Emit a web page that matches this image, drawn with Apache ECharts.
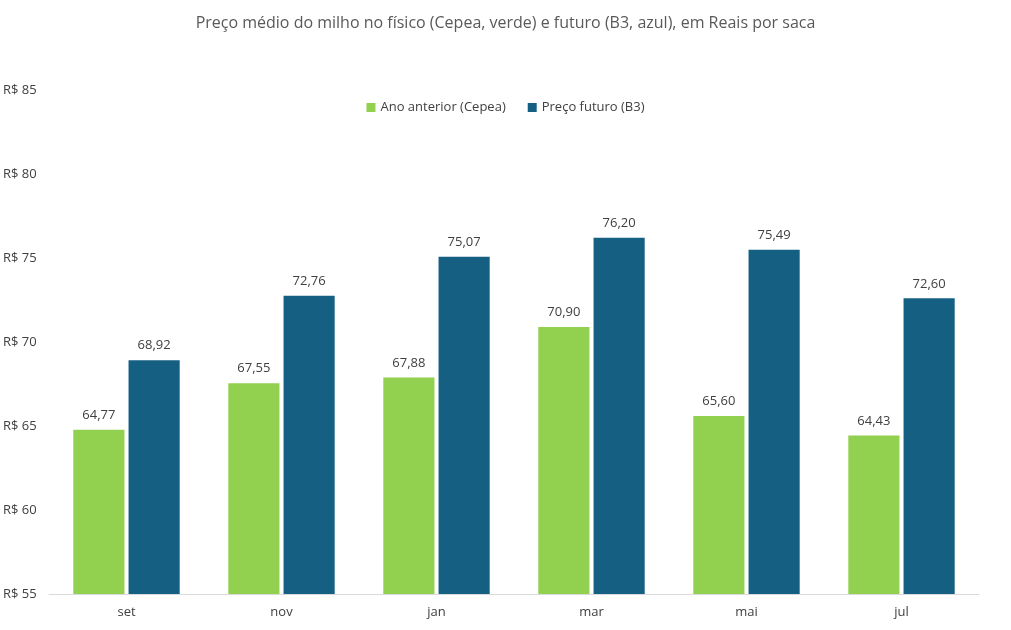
<!DOCTYPE html>
<html>
<head>
<meta charset="utf-8">
<script src="https://cdn.jsdelivr.net/npm/echarts@6/dist/echarts.min.js"></script>
<style>
  html, body { margin: 0; padding: 0; background: #fff; }
  #chart { width: 1011px; height: 630px; }
</style>
</head>
<body>
<div id="chart"></div>
<script>
  // dados
  const meses = ['set', 'nov', 'jan', 'mar', 'mai', 'jul']
  const anoAnterior = [64.77, 67.55, 67.88, 70.90, 65.60, 64.43]
  const precoFuturo = [68.92, 72.76, 75.07, 76.20, 75.49, 72.60]

  const font = '"Open Sans", "Noto Sans", sans-serif'
  const fmt = v => v.toFixed(2).replace('.', ',')

  const chart = echarts.init(document.getElementById('chart'))
  chart.setOption({
    animation: false,
    textStyle: { fontFamily: font },
    title: {
      text: 'Preço médio do milho no físico (Cepea, verde) e futuro (B3, azul), em Reais por saca',
      left: 'center',
      top: 10,
      textStyle: { fontSize: 16, fontWeight: 'normal', color: '#595959', fontFamily: font }
    },
    legend: {
      top: 96,
      left: 'center',
      itemWidth: 9,
      itemHeight: 9,
      itemGap: 22,
      icon: 'rect',
      textStyle: { fontSize: 13, color: '#404040', fontFamily: font }
    },
    grid: { left: 48, right: 32, top: 90, bottom: 36 },
    xAxis: {
      type: 'category',
      data: meses,
      axisTick: { show: false },
      axisLine: { lineStyle: { color: '#d9d9d9' } },
      axisLabel: { color: '#404040', fontSize: 13, margin: 12 }
    },
    yAxis: {
      type: 'value',
      min: 55,
      max: 85,
      interval: 5,
      splitLine: { show: false },
      axisLabel: {
        color: '#404040',
        fontSize: 13,
        align: 'left',
        margin: 46,
        formatter: v => 'R$ ' + v
      }
    },
    series: [
      {
        name: 'Ano anterior (Cepea)',
        type: 'bar',
        data: anoAnterior,
        barWidth: '33%',
        barGap: '8%',
        itemStyle: { color: '#92D050' },
        label: {
          show: true, position: 'top', distance: 8,
          color: '#404040', fontSize: 13,
          formatter: p => fmt(p.value)
        }
      },
      {
        name: 'Preço futuro (B3)',
        type: 'bar',
        data: precoFuturo,
        barWidth: '33%',
        itemStyle: { color: '#156082' },
        label: {
          show: true, position: 'top', distance: 8,
          color: '#404040', fontSize: 13,
          formatter: p => fmt(p.value)
        }
      }
    ]
  })
</script>
</body>
</html>
